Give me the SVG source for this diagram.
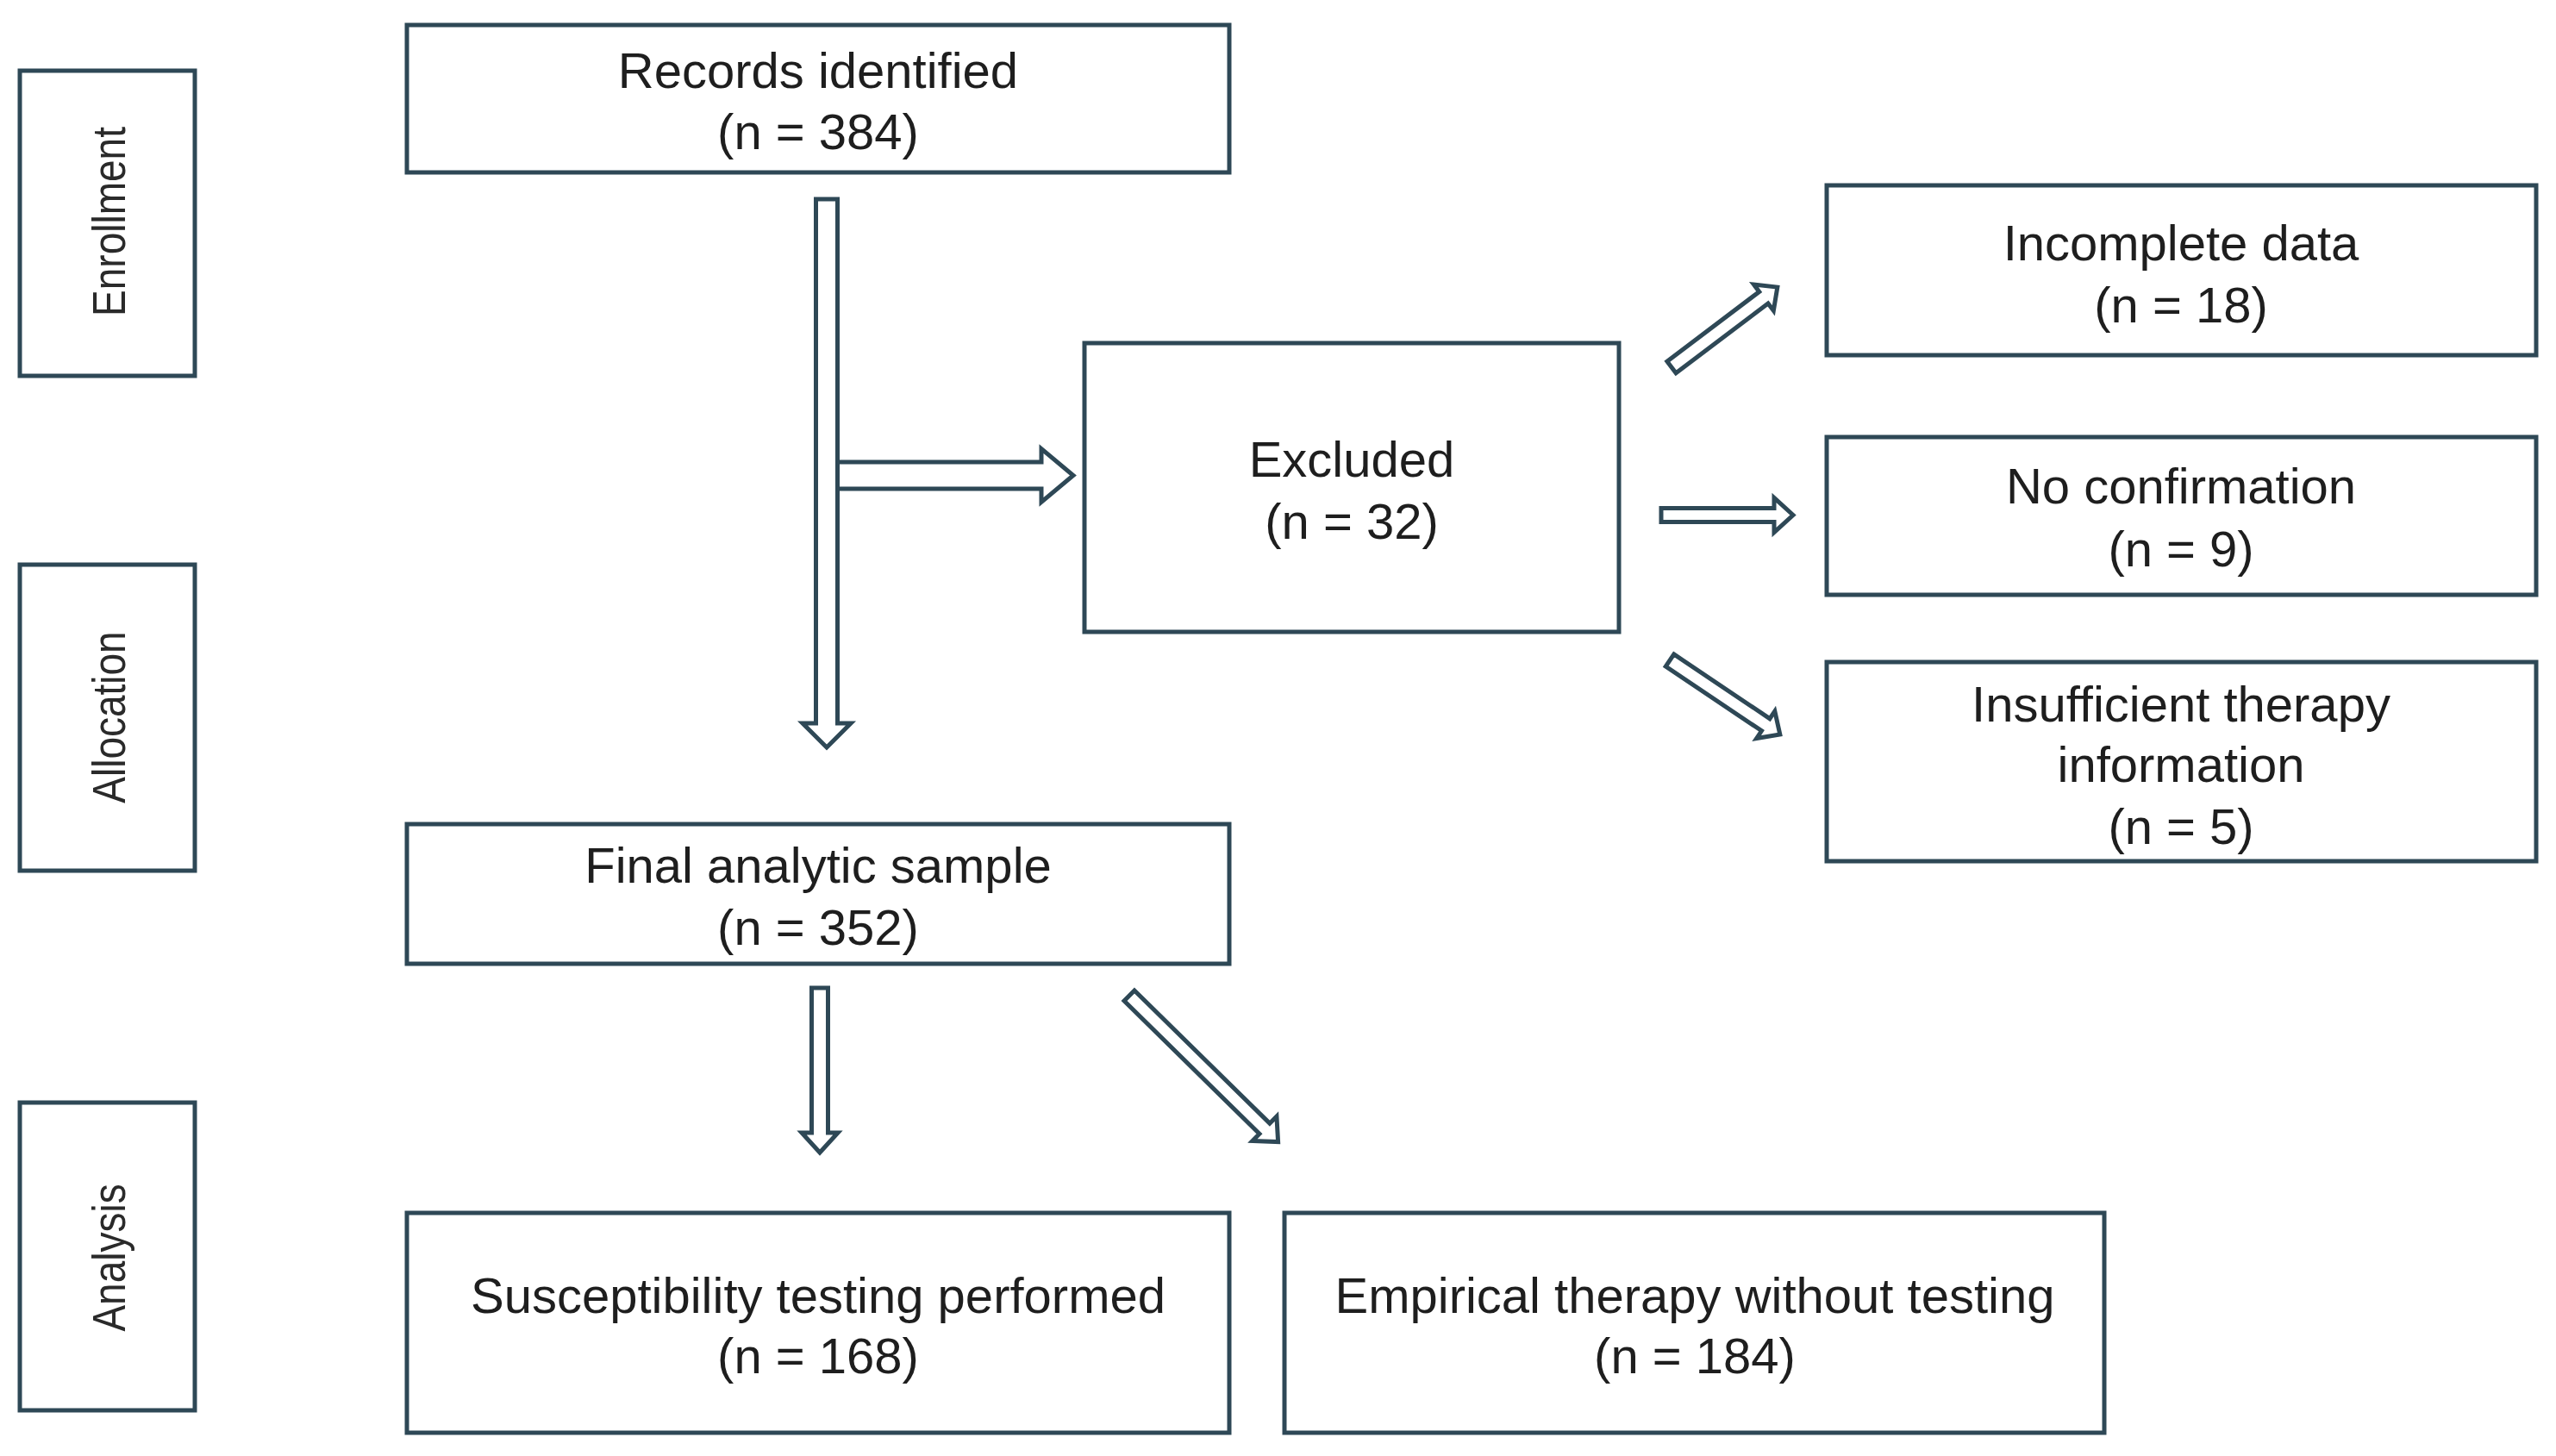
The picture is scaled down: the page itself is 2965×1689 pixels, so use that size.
<svg xmlns="http://www.w3.org/2000/svg" width="2965" height="1689" viewBox="0 0 2965 1689">
<style>
.box{fill:#ffffff;stroke:#2e4856;stroke-width:5}
.t{font-family:"Liberation Sans",Arial,sans-serif;font-size:58px;fill:#1e1e1e;text-anchor:middle}
.v{font-family:"Liberation Sans",Arial,sans-serif;font-size:46px;fill:#2a2a2a;text-anchor:middle}
.arr{fill:#ffffff;stroke:#2e4856;stroke-width:5;stroke-linejoin:miter}
</style>
<rect width="2965" height="1689" fill="#ffffff"/>
<g id="stage-enrollment">
<rect class="box" x="23" y="82" width="203" height="354"/>
<text class="v" transform="translate(145,257) rotate(-90) scale(1,1.18)">Enrollment</text>
</g>
<g id="stage-allocation">
<rect class="box" x="23" y="655" width="203" height="355"/>
<text class="v" transform="translate(145,832) rotate(-90) scale(1,1.18)">Allocation</text>
</g>
<g id="stage-analysis">
<rect class="box" x="23" y="1279" width="203" height="357"/>
<text class="v" transform="translate(145,1459) rotate(-90) scale(1,1.18)">Analysis</text>
</g>
<g id="records">
<rect class="box" x="472" y="29" width="954" height="171"/>
<text class="t" x="949" y="102">Records identified</text>
<text class="t" x="949" y="173">(n = 384)</text>
</g>
<g id="excluded">
<rect class="box" x="1258" y="398" width="620" height="335"/>
<text class="t" x="1568" y="553">Excluded</text>
<text class="t" x="1568" y="625">(n = 32)</text>
</g>
<g id="incomplete">
<rect class="box" x="2119" y="215" width="823" height="197"/>
<text class="t" x="2530" y="302">Incomplete data</text>
<text class="t" x="2530" y="374">(n = 18)</text>
</g>
<g id="noconfirmation">
<rect class="box" x="2119" y="507" width="823" height="183"/>
<text class="t" x="2530" y="584">No confirmation</text>
<text class="t" x="2530" y="657">(n = 9)</text>
</g>
<g id="insufficient">
<rect class="box" x="2119" y="768" width="823" height="231"/>
<text class="t" x="2530" y="837">Insufficient therapy</text>
<text class="t" x="2530" y="907">information</text>
<text class="t" x="2530" y="979">(n = 5)</text>
</g>
<g id="final">
<rect class="box" x="472" y="956" width="954" height="162"/>
<text class="t" x="949" y="1024">Final analytic sample</text>
<text class="t" x="949" y="1096">(n = 352)</text>
</g>
<g id="susceptibility">
<rect class="box" x="472" y="1407" width="954" height="255"/>
<text class="t" x="949" y="1523">Susceptibility testing performed</text>
<text class="t" x="949" y="1593">(n = 168)</text>
</g>
<g id="empirical">
<rect class="box" x="1490" y="1407" width="951" height="255"/>
<text class="t" x="1966" y="1523">Empirical therapy without testing</text>
<text class="t" x="1966" y="1593">(n = 184)</text>
</g>
<g id="connectors">
<polygon class="arr" transform="translate(959,231) rotate(90)" points="0,-12.5 608,-12.5 608,-28 636,0 608,28 608,12.5 0,12.5"/>
<polygon class="arr" transform="translate(971.5,551.5)" points="0,-15.5 236.5,-15.5 236.5,-31 273.5,0 236.5,31 236.5,15.5 0,15.5"/>
<polygon class="arr" transform="translate(1939,426) rotate(-37.1)" points="0,-8.5 134,-8.5 134,-19 154,0 134,19 134,8.5 0,8.5"/>
<polygon class="arr" transform="translate(1927,597.5)" points="0,-8 131,-8 131,-20 153,0 131,20 131,8 0,8"/>
<polygon class="arr" transform="translate(1937,766) rotate(33.9)" points="0,-8.5 134,-8.5 134,-19 154,0 134,19 134,8.5 0,8.5"/>
<polygon class="arr" transform="translate(951,1146) rotate(90)" points="0,-9.5 168,-9.5 168,-21 191,0 168,21 168,9.5 0,9.5"/>
<polygon class="arr" transform="translate(1310,1155) rotate(44.5)" points="0,-8.5 220,-8.5 220,-20 242,0 220,20 220,8.5 0,8.5"/>
</g>
</svg>
